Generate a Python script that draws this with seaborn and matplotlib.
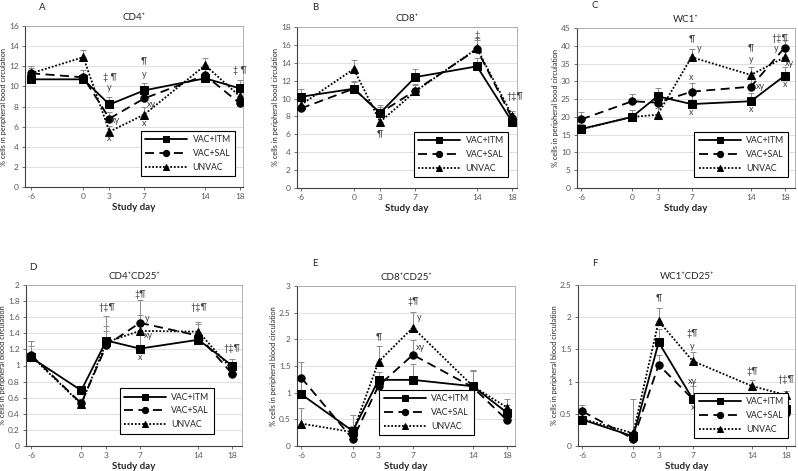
import numpy as np
import pandas as pd
import matplotlib
matplotlib.use('Agg')
import matplotlib.pyplot as plt
from matplotlib.ticker import FuncFormatter, MultipleLocator
import seaborn as sns

days = [-6, 0, 3, 7, 14, 18]
groups = ['VAC+ITM', 'VAC+SAL', 'UNVAC']

# A - CD4+
cd4_itm = [10.7, 10.7, 8.2, 9.6, 10.8, 9.8]
cd4_sal = [11.3, 10.9, 6.8, 8.8, 11.1, 8.3]
cd4_unvac = [11.3, 12.9, 5.5, 7.2, 12.1, 9.0]
cd4_itm_se = [0.5, 0.5, 0.7, 0.7, 0.5, 0.8]
cd4_sal_se = [0.7, 0.7, 0.7, 0.8, 0.7, 0.7]
cd4_unvac_se = [0.5, 0.7, 0.6, 0.8, 0.7, 0.6]

# B - CD8+
cd8_itm = [10.2, 11.1, 8.4, 12.4, 13.6, 7.4]
cd8_sal = [8.9, 11.1, 8.4, 10.9, 15.5, 7.8]
cd8_unvac = [9.3, 13.3, 7.4, 10.8, 15.6, 8.1]
cd8_itm_se = [0.9, 0.9, 0.9, 0.9, 0.9, 0.6]
cd8_sal_se = [0.8, 0.8, 0.7, 0.7, 1.0, 0.6]
cd8_unvac_se = [0.6, 1.0, 0.8, 0.7, 1.2, 0.5]

# C - WC1+
wc1_itm = [16.6, 20.0, 25.8, 23.6, 24.4, 31.6]
wc1_sal = [19.3, 24.4, 24.0, 27.1, 28.5, 39.5]
wc1_unvac = [16.5, 20.0, 20.6, 36.8, 31.8, 36.8]
wc1_itm_se = [1.5, 2.0, 2.3, 2.5, 2.4, 2.5]
wc1_sal_se = [2.2, 2.0, 2.0, 2.3, 2.4, 2.2]
wc1_unvac_se = [1.5, 2.0, 2.0, 2.3, 2.2, 2.0]

# D - CD4+CD25+
cd4cd25_itm = [1.10, 0.69, 1.31, 1.21, 1.32, 1.00]
cd4cd25_sal = [1.13, 0.53, 1.25, 1.53, 1.37, 0.90]
cd4cd25_unvac = [1.12, 0.52, 1.29, 1.43, 1.42, 0.95]
cd4cd25_itm_se = [0.20, 0.05, 0.30, 0.20, 0.08, 0.08]
cd4cd25_sal_se = [0.18, 0.05, 0.18, 0.28, 0.14, 0.06]
cd4cd25_unvac_se = [0.12, 0.05, 0.20, 0.20, 0.12, 0.06]

# E - CD8+CD25+
cd8cd25_itm = [0.97, 0.28, 1.24, 1.24, 1.12, 0.62]
cd8cd25_sal = [1.28, 0.13, 1.13, 1.71, 1.10, 0.48]
cd8cd25_unvac = [0.42, 0.26, 1.58, 2.22, 1.12, 0.72]
cd8cd25_itm_se = [0.30, 0.10, 0.15, 0.29, 0.30, 0.15]
cd8cd25_sal_se = [0.29, 0.10, 0.15, 0.28, 0.30, 0.20]
cd8cd25_unvac_se = [0.29, 0.32, 0.30, 0.30, 0.28, 0.16]

# F - WC1+CD25+
wc1cd25_itm = [0.41, 0.15, 1.61, 0.73, 0.69, 0.58]
wc1cd25_sal = [0.54, 0.11, 1.26, 0.73, 0.73, 0.52]
wc1cd25_unvac = [0.42, 0.20, 1.94, 1.32, 0.93, 0.79]
wc1cd25_itm_se = [0.10, 0.05, 0.20, 0.20, 0.07, 0.10]
wc1cd25_sal_se = [0.10, 0.05, 0.15, 0.26, 0.07, 0.05]
wc1cd25_unvac_se = [0.10, 0.53, 0.21, 0.14, 0.09, 0.06]

# significance labels (day, y, text)
notes_a = [(3, 10.9, '‡ ¶'), (3, 9.9, 'y'), (3.7, 6.6, 'xy'), (3, 4.8, 'x'),
           (7, 12.5, '¶'), (7, 11.2, 'y'), (7.8, 8.2, 'xy'), (7, 6.3, 'x'),
           (18, 11.6, '‡ ¶')]
notes_b = [(14, 17.0, '‡'), (3, 6.1, '¶'), (18.3, 10.2, '†‡¶')]
notes_c = [(7, 42, '¶'), (7.9, 39.3, 'y'), (7, 31, 'x'), (7, 21.3, 'x'),
           (14, 39.5, '¶'), (14, 36, 'y'), (15.1, 28.5, 'xy'), (14, 22, 'x'),
           (17.4, 42, '†‡¶'), (17, 39.3, 'y'), (18.6, 35, 'xy'), (18, 29, 'x')]
notes_d = [(3, 1.72, '†‡¶'), (7, 1.88, '‡¶'), (7.9, 1.58, 'y'), (8.0, 1.37, 'xy'),
           (7, 1.10, 'x'), (14, 1.72, '†‡¶'), (18, 1.21, '†‡¶')]
notes_e = [(3, 2.05, '¶'), (7, 2.70, '‡¶'), (7.7, 2.40, 'y'), (7.9, 1.85, 'xy'), (7, 1.0, 'x')]
notes_f = [(3, 2.30, '¶'), (7, 1.75, '‡¶'), (7, 1.55, 'y'), (7, 1.00, 'xy'), (7, 0.60, 'x'),
           (14, 1.15, '‡¶'), (18, 1.03, '†‡¶')]

panels = [
    ('A', 'CD4⁺', [cd4_itm, cd4_sal, cd4_unvac], [cd4_itm_se, cd4_sal_se, cd4_unvac_se],
     notes_a, 16, 2, 'bood'),
    ('B', 'CD8⁺', [cd8_itm, cd8_sal, cd8_unvac], [cd8_itm_se, cd8_sal_se, cd8_unvac_se],
     notes_b, 18, 2, 'bood'),
    ('C', 'WC1⁺', [wc1_itm, wc1_sal, wc1_unvac], [wc1_itm_se, wc1_sal_se, wc1_unvac_se],
     notes_c, 45, 5, 'bood'),
    ('D', 'CD4⁺CD25⁺', [cd4cd25_itm, cd4cd25_sal, cd4cd25_unvac],
     [cd4cd25_itm_se, cd4cd25_sal_se, cd4cd25_unvac_se], notes_d, 2, 0.2, 'blood'),
    ('E', 'CD8⁺CD25⁺', [cd8cd25_itm, cd8cd25_sal, cd8cd25_unvac],
     [cd8cd25_itm_se, cd8cd25_sal_se, cd8cd25_unvac_se], notes_e, 3, 0.5, 'blood'),
    ('F', 'WC1⁺CD25⁺', [wc1cd25_itm, wc1cd25_sal, wc1cd25_unvac],
     [wc1cd25_itm_se, wc1cd25_sal_se, wc1cd25_unvac_se], notes_f, 2.5, 0.5, 'blood'),
]

# layout in pixels: left, right, top, bottom of plot area; xlim; legend anchor; letter pos
boxes = [(25, 243, 26, 187), (297, 517, 27, 188), (577, 795, 28, 188),
         (26, 242, 285, 446), (297, 515, 286, 446), (578, 795, 285, 446)]
xlims = [(-6.7, 18.35), (-6.45, 18.55), (-6.5, 19.2), (-6.6, 19.2), (-6.5, 18.9), (-6.5, 19.05)]
leg_anchor = [(0.985, 0.04), (0.98, 0.04), (0.99, 0.04), (0.89, 0.05), (0.83, 0.04), (0.99, 0.02)]
letter_pos = [(42, 8), (315, 7), (595, 6), (33, 268), (315, 263), (595, 263)]

sns.set_theme(style='white')
plt.rcParams['font.family'] = ['Lato', 'DejaVu Sans']
plt.rcParams['axes.unicode_minus'] = False
plt.rcParams['lines.linewidth'] = 1.3
plt.rcParams['lines.markersize'] = 5.3

W, H = 798, 471
fig = plt.figure(figsize=(W / 100, H / 100), dpi=100)

markers = {'VAC+ITM': 's', 'VAC+SAL': 'o', 'UNVAC': '^'}
dashes = {'VAC+ITM': '', 'VAC+SAL': (5, 3), 'UNVAC': (1, 1)}
fmt = FuncFormatter(lambda v, p: f'{v:g}')

for i, (letter, title, means, sems, notes, ymax, ystep, word) in enumerate(panels):
    l, r, t, b = boxes[i]
    ax = fig.add_axes([l / W, 1 - b / H, (r - l) / W, (b - t) / H])

    df = pd.DataFrame({
        'day': days * 3,
        'value': [v for m in means for v in m],
        'group': [g for g in groups for _ in days],
    })
    for m, s in zip(means, sems):
        ax.errorbar(days, m, yerr=[np.zeros(len(s)), s], fmt='none', ecolor='#8c8c8c',
                    elinewidth=0.7, capsize=2, capthick=0.7, zorder=1.5)
    sns.lineplot(data=df, x='day', y='value', style='group', style_order=groups,
                 markers=markers, dashes=dashes, color='black', errorbar=None,
                 markeredgecolor='black', markersize=5.3, linewidth=1.3, ax=ax, zorder=3)

    for x, y, txt in notes:
        ax.text(x, y, txt, ha='center', va='center', fontsize=6.5, color='#404040')

    ax.set_xlim(*xlims[i])
    ax.set_ylim(0, ymax)
    ax.set_xticks(days)
    ax.yaxis.set_major_locator(MultipleLocator(ystep))
    ax.yaxis.set_major_formatter(fmt)
    ax.grid(axis='y', color='#d9d9d9', linewidth=0.6)
    ax.set_axisbelow(True)
    ax.tick_params(axis='both', labelsize=6, colors='#595959', length=2.5, width=0.6,
                   pad=2, direction='out')
    ax.tick_params(axis='y', left=True)
    ax.tick_params(axis='x', bottom=True)
    for side in ['left', 'bottom']:
        ax.spines[side].set_color('#404040')
        ax.spines[side].set_linewidth(0.8)
    for side in ['top', 'right']:
        ax.spines[side].set_color('#a6a6a6')
        ax.spines[side].set_linewidth(0.6)

    ax.set_xlabel('Study day', fontsize=7, fontweight='bold', labelpad=2)
    ax.set_ylabel(f'% cells in peripheral {word} circulation', fontsize=5.3, labelpad=1.5)
    ax.set_title(title, fontsize=7, pad=4)

    sns.move_legend(ax, 'lower right', bbox_to_anchor=leg_anchor[i], title=None,
                    frameon=True, fancybox=False, fontsize=6.3, handlelength=4.8,
                    markerscale=0.85, borderpad=0.5, labelspacing=0.55,
                    handletextpad=0.6, edgecolor='black', framealpha=1)
    ax.get_legend().get_frame().set_linewidth(0.8)

    lx, ly = letter_pos[i]
    fig.text(lx / W, 1 - ly / H, letter, fontsize=7, ha='center', va='center')

fig.savefig('out.png', dpi=100)
